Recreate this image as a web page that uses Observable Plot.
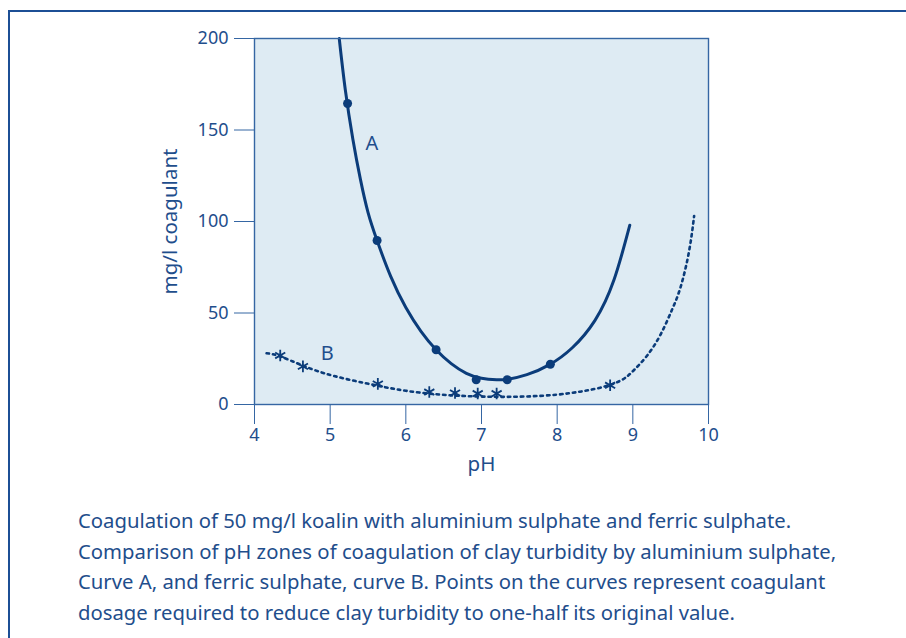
<!DOCTYPE html>
<html>
<head>
<meta charset="utf-8">
<script src="https://cdn.jsdelivr.net/npm/d3@7"></script>
<script src="https://cdn.jsdelivr.net/npm/@observablehq/plot@0.6"></script>
<style>
  html, body { margin: 0; padding: 0; background: #fff; width: 906px; height: 638px; overflow: hidden; }
  #frame { position: absolute; left: 8px; top: 10px; width: 1000px; height: 1000px;
           border-left: 2px solid #1c4f95; border-top: 2px solid #1c4f95; box-sizing: border-box; }
  #chart { position: absolute; left: 0; top: 0; }
  #caption { position: absolute; left: 78px; top: 505px; width: 826px; white-space: nowrap;
             font-family: "Noto Sans", sans-serif; font-size: 20.3px; line-height: 30.5px; color: #1f4e8c; }
  #chart svg g[aria-label$='tick label'] text { font-size: 18px !important; }
  #chart svg g[aria-label$='axis label'] text { font-size: 20.5px !important; }
</style>
</head>
<body>
<div id="frame"></div>
<div id="chart"></div>
<div id="caption">Coagulation of 50 mg/l koalin with aluminium sulphate and ferric sulphate.<br>Comparison of pH zones of coagulation of clay turbidity by aluminium sulphate,<br>Curve A, and ferric sulphate, curve B. Points on the curves represent coagulant<br>dosage required to reduce clay turbidity to one-half its original value.</div>
<script>
// Curve A (aluminium sulphate) – line
const curveA_pH   = [5.12, 5.20, 5.30, 5.40, 5.50, 5.62, 5.80, 6.00, 6.20, 6.40, 6.60, 6.80, 7.00, 7.20, 7.35, 7.60, 7.90, 8.20, 8.50, 8.75, 8.96];
const curveA_dose = [200, 172, 145, 123, 105, 89.6, 70, 53, 40, 29.9, 22.3, 17, 14.3, 13.5, 13.8, 16.3, 21.8, 31, 46, 68, 98];
// Curve A measured points
const pointsA_pH   = [5.23, 5.62, 6.40, 6.93, 7.34, 7.91];
const pointsA_dose = [164.5, 89.6, 29.9, 13.5, 13.5, 22];
// Curve B (ferric sulphate) – line
const curveB_pH   = [4.16, 4.34, 4.64, 5.05, 5.60, 6.00, 6.40, 6.80, 7.20, 7.60, 8.00, 8.30, 8.57, 8.84, 9.01, 9.19, 9.37, 9.52, 9.63, 9.74, 9.81];
const curveB_dose = [28, 26.3, 21.2, 15.6, 10.5, 7.5, 5.6, 4.6, 4.2, 4.4, 5.4, 7, 9.2, 13.1, 18.6, 26.8, 38.5, 52, 64, 83, 103];
// Curve B measured points
const pointsB_pH   = [4.34, 4.64, 5.63, 6.31, 6.65, 6.95, 7.20, 8.70];
const pointsB_dose = [26.8, 20.8, 11.3, 6.8, 6.3, 6.0, 6.0, 10.5];
// Curve labels
const curveLabels = ["A", "B"];
const labelPH   = [5.55, 4.96];
const labelDose = [142.6, 28];
// Ticks
const xTicks = [4, 5, 6, 7, 8, 9, 10];
const yTicks = [0, 50, 100, 150, 200];

const navy = "#0b3c7a";
const axisColor = "#3566a3";
const textColor = "#1f4e8c";

const lineA = curveA_pH.map((x, i) => ({x, y: curveA_dose[i]}));
const dotsA = pointsA_pH.map((x, i) => ({x, y: pointsA_dose[i]}));
const lineB = curveB_pH.map((x, i) => ({x, y: curveB_dose[i]}));
const dotsB = pointsB_pH.map((x, i) => ({x, y: pointsB_dose[i]}));
const labels = curveLabels.map((t, i) => ({t, x: labelPH[i], y: labelDose[i]}));

const chart = Plot.plot({
  width: 906,
  height: 484,
  marginLeft: 254,
  marginRight: 198,
  marginTop: 38,
  marginBottom: 80,
  style: {fontFamily: "Noto Sans, sans-serif", color: textColor, background: "transparent"},
  x: {domain: [4, 10]},
  y: {domain: [0, 200]},
  marks: [
    Plot.frame({fill: "#deebf3", stroke: null}),
    Plot.line(lineA, {x: "x", y: "y", curve: "natural", stroke: navy, strokeWidth: 3}),
    Plot.line(lineB, {x: "x", y: "y", curve: "natural", stroke: navy, strokeWidth: 2.6, strokeDasharray: "2.5,4"}),
    Plot.dot(dotsA, {x: "x", y: "y", r: 4.5, fill: navy, stroke: null}),
    Plot.dot(dotsB, {x: "x", y: "y", r: 5.5, symbol: "asterisk", stroke: navy, strokeWidth: 1.8}),
    Plot.text(labels, {x: "x", y: "y", text: "t", fontSize: 20, fill: textColor}),
    Plot.frame({stroke: axisColor, strokeWidth: 1.4}),
    Plot.axisX({ticks: xTicks, tickFormat: d3.format("d"), tickSize: 20, tickPadding: 4, stroke: axisColor,
      label: "pH", labelAnchor: "center", labelArrow: "none", labelOffset: 66, color: textColor}),
    Plot.axisY({ticks: yTicks, tickFormat: d3.format("d"), tickSize: 20, tickPadding: 6, stroke: axisColor,
      label: "mg/l coagulant", labelAnchor: "center", labelArrow: "none", labelOffset: 92, color: textColor})
  ]
});
document.getElementById("chart").appendChild(chart);
</script>
</body>
</html>
